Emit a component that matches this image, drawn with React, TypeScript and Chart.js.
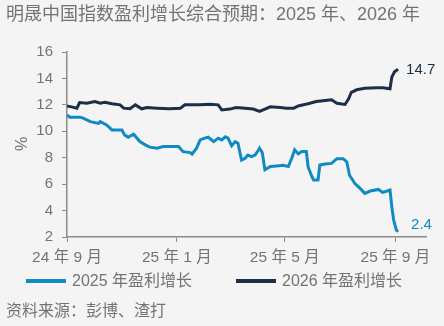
import React, { useEffect, useRef } from "react";
import { Chart, registerables } from "chart.js";

Chart.register(...registerables);

// Days since 2024-09-01
const days2025: number[] = [0, 3, 14, 18, 26, 35, 37, 44, 50, 61, 64, 68, 74, 81, 87, 92, 100, 107, 124, 129, 137, 139, 144, 148, 153, 157, 163, 168, 172, 176, 179, 183, 187, 190, 194, 198, 201, 205, 209, 213, 214, 217, 220, 226, 233, 240, 246, 250, 253, 257, 261, 266, 268, 272, 274, 279, 281, 287, 294, 300, 307, 311, 314, 320, 326, 331, 337, 346, 351, 359, 361, 363, 366, 368];
const growth2025: number[] = [11.24, 11.07, 11.07, 11.0, 10.73, 10.6, 10.73, 10.48, 10.1, 10.1, 9.73, 9.55, 9.78, 9.22, 8.97, 8.8, 8.72, 8.84, 8.84, 8.46, 8.39, 8.27, 8.72, 9.35, 9.48, 9.55, 9.22, 9.48, 9.35, 9.58, 9.48, 8.9, 9.22, 9.1, 7.83, 7.96, 8.2, 8.08, 8.2, 8.6, 8.72, 8.4, 7.08, 7.33, 7.38, 7.42, 7.33, 8.0, 8.6, 8.3, 8.47, 8.47, 7.3, 6.6, 6.32, 6.32, 7.44, 7.52, 7.57, 7.93, 7.93, 7.68, 6.67, 6.04, 5.66, 5.3, 5.48, 5.6, 5.37, 5.55, 4.3, 3.3, 2.53, 2.4];

const days2026: number[] = [0, 5, 11, 14, 22, 31, 37, 42, 50, 59, 63, 70, 76, 83, 89, 100, 114, 126, 131, 148, 159, 168, 172, 181, 188, 198, 207, 214, 220, 226, 237, 244, 252, 257, 264, 268, 277, 287, 294, 300, 309, 313, 316, 322, 331, 344, 351, 359, 361, 364, 368];
const growth2026: number[] = [11.92, 11.85, 11.75, 12.17, 12.12, 12.25, 12.12, 12.2, 12.08, 12.0, 11.75, 11.7, 12.0, 11.7, 11.8, 11.75, 11.7, 11.75, 12.0, 12.0, 12.05, 12.0, 11.62, 11.68, 11.8, 11.75, 11.68, 11.5, 11.68, 11.85, 11.8, 11.75, 11.75, 11.92, 12.03, 12.08, 12.25, 12.33, 12.38, 12.12, 12.03, 12.45, 12.95, 13.14, 13.26, 13.3, 13.3, 13.22, 14.1, 14.5, 14.7];

const tickDays: number[] = [0, 122, 242, 365];
const tickLabels: string[] = ["24 年 9 月", "25 年 1 月", "25 年 5 月", "25 年 9 月"];

const seriesNames: string[] = ["2025 年盈利增长", "2026 年盈利增长"];
const titleText = "明晟中国指数盈利增长综合预期：2025 年、2026 年";
const sourceText = "资料来源：彭博、渣打";

const BLUE = "#0f8bc2";
const NAVY = "#1b2f46";
const GREY = "#737373";
const BG = "#f4f4f4";
const FONT = '"Liberation Sans", "Noto Sans CJK SC", sans-serif';

export default function App() {
  const ref = useRef<HTMLCanvasElement | null>(null);

  useEffect(() => {
    if (!ref.current) return;
    const decor = {
      id: "decor",
      beforeDraw(chart: any) {
        const c = chart.ctx;
        c.save();
        c.fillStyle = BG;
        c.fillRect(0, 0, chart.width, chart.height);
        c.restore();
      },
      afterDraw(chart: any) {
        const c = chart.ctx;
        const xs = chart.scales.x;
        const ys = chart.scales.y;
        c.save();
        c.textBaseline = "middle";
        // title
        c.fillStyle = GREY;
        c.font = `18px ${FONT}`;
        c.textAlign = "left";
        c.fillText(titleText, 6, 15);
        // y title
        c.save();
        c.translate(23, 144);
        c.rotate(-Math.PI / 2);
        c.textAlign = "center";
        c.font = `16px ${FONT}`;
        c.fillText("%", 0, 0);
        c.restore();
        // legend
        const legendY = 281;
        const items = [
          { x: 26, color: BLUE, label: seriesNames[0] },
          { x: 236, color: NAVY, label: seriesNames[1] },
        ];
        c.font = `16px ${FONT}`;
        c.textAlign = "left";
        items.forEach((it) => {
          c.strokeStyle = it.color;
          c.lineWidth = 4;
          c.beginPath();
          c.moveTo(it.x, legendY);
          c.lineTo(it.x + 40, legendY);
          c.stroke();
          c.fillStyle = GREY;
          c.fillText(it.label, it.x + 46, legendY + 1);
        });
        // source
        c.fillStyle = GREY;
        c.font = `16px ${FONT}`;
        c.fillText(sourceText, 6, 312);
        // end labels
        c.font = `15px ${FONT}`;
        const l26 = growth2026[growth2026.length - 1];
        const d26 = days2026[days2026.length - 1];
        c.fillStyle = NAVY;
        c.fillText(l26.toFixed(1), xs.getPixelForValue(d26) + 8, ys.getPixelForValue(l26) + 1);
        const l25 = growth2025[growth2025.length - 1];
        const d25 = days2025[days2025.length - 1];
        c.fillStyle = BLUE;
        c.fillText(l25.toFixed(1), xs.getPixelForValue(d25) + 13, ys.getPixelForValue(l25) - 7);
        c.restore();
      },
    };

    const chart = new Chart(ref.current, {
      type: "line",
      data: {
        datasets: [
          {
            label: seriesNames[0],
            data: days2025.map((d, i) => ({ x: d, y: growth2025[i] })),
            borderColor: BLUE,
            backgroundColor: BLUE,
            borderWidth: 3,
            pointRadius: 0,
            tension: 0,
          },
          {
            label: seriesNames[1],
            data: days2026.map((d, i) => ({ x: d, y: growth2026[i] })),
            borderColor: NAVY,
            backgroundColor: NAVY,
            borderWidth: 3,
            pointRadius: 0,
            tension: 0,
          },
        ],
      },
      options: {
        animation: false,
        responsive: false,
        events: [],
        layout: { autoPadding: false, padding: { left: 0, top: 52, right: 18, bottom: 0 } },
        plugins: { legend: { display: false }, title: { display: false }, tooltip: { enabled: false } },
        scales: {
          x: {
            type: "linear",
            min: 0,
            max: 399,
            afterFit: (s: any) => {
              s.height = 89;
            },
            afterBuildTicks: (s: any) => {
              s.ticks = tickDays.map((v) => ({ value: v }));
            },
            ticks: {
              autoSkip: false,
              maxRotation: 0,
              color: GREY,
              font: { family: FONT, size: 15.5 },
              padding: 6,
              callback: (v: any) => {
                const i = tickDays.indexOf(Number(v));
                return i >= 0 ? tickLabels[i] : "";
              },
            },
            grid: { drawOnChartArea: false, drawTicks: true, tickLength: 5, color: "#8c8c8c", lineWidth: 1 },
            border: { color: "#8c8c8c", width: 1.5 },
          },
          y: {
            min: 2,
            max: 16,
            afterFit: (s: any) => {
              s.width = 67;
            },
            ticks: { stepSize: 2, color: GREY, font: { family: FONT, size: 15 }, padding: 9 },
            grid: { drawOnChartArea: false, drawTicks: true, tickLength: 5, color: "#8c8c8c", lineWidth: 1 },
            border: { color: "#8c8c8c", width: 1.5 },
          },
        },
      },
      plugins: [decor],
    });
    return () => chart.destroy();
  }, []);

  return (
    <div style={{ position: "fixed", left: 0, top: 0, width: 444, height: 326, background: BG }}>
      <canvas ref={ref} width={444} height={326} style={{ display: "block", width: 444, height: 326 }} />
    </div>
  );
}
